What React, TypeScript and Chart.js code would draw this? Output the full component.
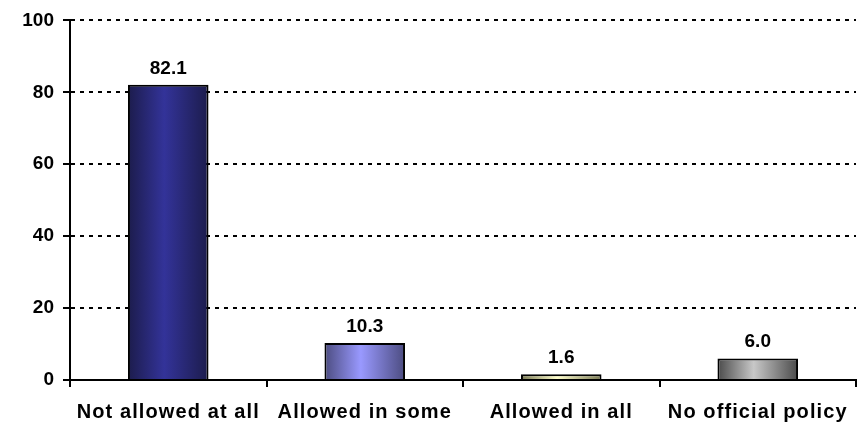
import React, { useEffect, useRef } from "react";
import { Chart, registerables } from "chart.js";

Chart.register(...registerables);

const CATEGORIES = ["Not allowed at all", "Allowed in some", "Allowed in all", "No official policy"];
const VALUES = [82.1, 10.3, 1.6, 6.0];
const Y_MIN = 0;
const Y_MAX = 100;
const Y_STEP = 20;
const EDGE_COLORS = ["#1c1c4c", "#4c4c80", "#7a7a55", "#4a4a4a"];
const CENTER_COLORS = ["#333399", "#9999ff", "#ffffcc", "#c8c8c8"];

const FONT_FAMILY = '"Liberation Sans", Arial, sans-serif';
const BAR_PCT = 0.41;

export default function App() {
  const ref = useRef<HTMLCanvasElement | null>(null);

  useEffect(() => {
    if (!ref.current) return;

    const spacingPlugin = {
      id: "spacing",
      beforeDraw(chart: any) {
        chart.ctx.letterSpacing = "1.1px";
      },
      beforeDatasetsDraw(chart: any) {
        chart.ctx.letterSpacing = "0px";
      },
    };

    const labelPlugin = {
      id: "valueLabels",
      afterDatasetsDraw(chart: any) {
        const ctx = chart.ctx;
        const meta = chart.getDatasetMeta(0);
        ctx.save();
        ctx.letterSpacing = "0px";
        ctx.font = `bold 19px ${FONT_FAMILY}`;
        ctx.fillStyle = "#000";
        ctx.textAlign = "center";
        ctx.textBaseline = "alphabetic";
        meta.data.forEach((el: any, i: number) => {
          ctx.fillText(VALUES[i].toFixed(1), el.x, el.y - 11);
        });
        ctx.restore();
      },
    };

    const chart = new Chart(ref.current, {
      type: "bar",
      data: {
        labels: CATEGORIES,
        datasets: [
          {
            data: VALUES,
            backgroundColor: (c: any) => {
              const ch = c.chart;
              const x = ch.scales && ch.scales.x;
              const i = c.dataIndex ?? 0;
              if (!x || !ch.chartArea) return CENTER_COLORS[i];
              const cx = x.getPixelForValue(i);
              const half = ((x.width / CATEGORIES.length) * BAR_PCT) / 2;
              const g = ch.ctx.createLinearGradient(cx - half, 0, cx + half, 0);
              g.addColorStop(0, EDGE_COLORS[i]);
              g.addColorStop(0.45, CENTER_COLORS[i]);
              g.addColorStop(1, EDGE_COLORS[i]);
              return g;
            },
            borderColor: "#000",
            borderWidth: 2,
            barPercentage: BAR_PCT,
            categoryPercentage: 1,
          },
        ],
      },
      options: {
        animation: false,
        responsive: false,
        layout: { padding: { top: 18, right: 7, left: 0, bottom: 0 } },
        plugins: {
          legend: { display: false },
          tooltip: { enabled: false },
        },
        scales: {
          x: {
            offset: true,
            grid: {
              offset: true,
              drawOnChartArea: false,
              drawTicks: true,
              tickLength: 7,
              color: "#000",
              lineWidth: 2,
            },
            border: { display: true, color: "#000", width: 2 },
            ticks: {
              color: "#000",
              font: { family: FONT_FAMILY, size: 20, weight: "bold" },
              padding: 13,
              maxRotation: 0,
              autoSkip: false,
            },
            afterFit: (s: any) => {
              s.height = 44;
            },
          },
          y: {
            min: Y_MIN,
            max: Y_MAX,
            grid: {
              color: "#000",
              lineWidth: 2,
              tickBorderDash: [],
              tickColor: "#000",
              tickWidth: 2,
              tickLength: 7,
            },
            border: { display: true, color: "#000", width: 2, dash: [4, 5] },
            ticks: {
              stepSize: Y_STEP,
              color: "#000",
              font: { family: FONT_FAMILY, size: 19, weight: "bold" },
              padding: 9,
              z: 1,
            },
            afterFit: (s: any) => {
              s.width = 70;
            },
          },
        },
      },
      plugins: [spacingPlugin, labelPlugin],
    });

    return () => chart.destroy();
  }, []);

  return (
    <div style={{ position: "absolute", left: 0, top: 0, width: 863, height: 424, background: "#fff" }}>
      <canvas ref={ref} width={863} height={424} style={{ display: "block" }} />
    </div>
  );
}
